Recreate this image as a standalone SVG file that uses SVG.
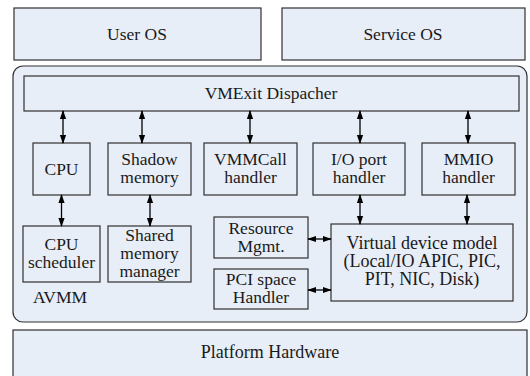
<svg xmlns="http://www.w3.org/2000/svg" width="530" height="376" viewBox="0 0 530 376">
<defs>
<marker id="a" viewBox="0 0 10 10" refX="9" refY="5" markerWidth="9" markerHeight="9" orient="auto-start-reverse" markerUnits="userSpaceOnUse"><path d="M0,1.5 L10,5 L0,8.5 Z" fill="#000"/></marker>
</defs>
<rect x="0" y="0" width="530" height="376" fill="#fff"/>
<g fill="#e8eef8" stroke="#303030" stroke-width="1.2">
<rect id="userOS" x="14" y="8" width="247" height="52"/>
<rect id="serviceOS" x="282" y="8" width="243" height="52"/>
<rect id="avmm" x="13" y="66" width="514" height="256" rx="10"/>
<rect id="dispatcher" x="24" y="76" width="495" height="35"/>
<rect id="cpu" x="33" y="143" width="57" height="52"/>
<rect id="shadow" x="108" y="143" width="83" height="52"/>
<rect id="vmmcall" x="204" y="143" width="93" height="52"/>
<rect id="ioport" x="313" y="143" width="92" height="52"/>
<rect id="mmio" x="422" y="143" width="93" height="52"/>
<rect id="cpusched" x="23" y="226" width="77" height="56"/>
<rect id="sharedmem" x="108" y="226" width="83" height="56"/>
<rect id="resource" x="214" y="217" width="94" height="41"/>
<rect id="pci" x="214" y="269" width="94" height="40"/>
<rect id="vdm" x="331" y="224" width="182" height="77"/>
<rect id="platform" x="13" y="330" width="514" height="52"/>
</g>
<g id="connectors" stroke="#000" stroke-width="1.3" marker-start="url(#a)" marker-end="url(#a)">
<line x1="63" y1="111" x2="63" y2="143"/>
<line x1="142" y1="111" x2="142" y2="143"/>
<line x1="250" y1="111" x2="250" y2="143"/>
<line x1="360" y1="111" x2="360" y2="143"/>
<line x1="468" y1="111" x2="468" y2="143"/>
<line x1="61.5" y1="195" x2="61.5" y2="226"/>
<line x1="150" y1="195" x2="150" y2="226"/>
<line x1="360" y1="195" x2="360" y2="224"/>
<line x1="467" y1="195" x2="467" y2="224"/>
<line x1="308" y1="239" x2="331" y2="239"/>
<line x1="308" y1="290" x2="331" y2="290"/>
</g>
<g id="labels" font-family="Liberation Serif" font-size="17.5" fill="#1a1a1a" text-anchor="middle">
<text x="137" y="40">User OS</text>
<text x="403" y="40">Service OS</text>
<text x="60" y="303">AVMM</text>
<text x="271" y="99">VMExit Dispacher</text>
<text x="61.5" y="175">CPU</text>
<text x="149.5" y="165">Shadow</text><text x="149.5" y="183">memory</text>
<text x="250.5" y="165">VMMCall</text><text x="250.5" y="183">handler</text>
<text x="359" y="165">I/O port</text><text x="359" y="183">handler</text>
<text x="468.5" y="165">MMIO</text><text x="468.5" y="183">handler</text>
<text x="61.5" y="250">CPU</text><text x="61.5" y="268">scheduler</text>
<text x="149.5" y="241">Shared</text><text x="149.5" y="259">memory</text><text x="149.5" y="277">manager</text>
<text x="261" y="234">Resource</text><text x="261" y="252">Mgmt.</text>
<text x="261" y="285">PCI space</text><text x="261" y="303">Handler</text>
<g font-size="18"><text x="422" y="249">Virtual device model</text><text x="422" y="267">(Local/IO APIC, PIC,</text><text x="422" y="285">PIT, NIC, Disk)</text>
<text x="270" y="358">Platform Hardware</text></g>
</g>
</svg>
